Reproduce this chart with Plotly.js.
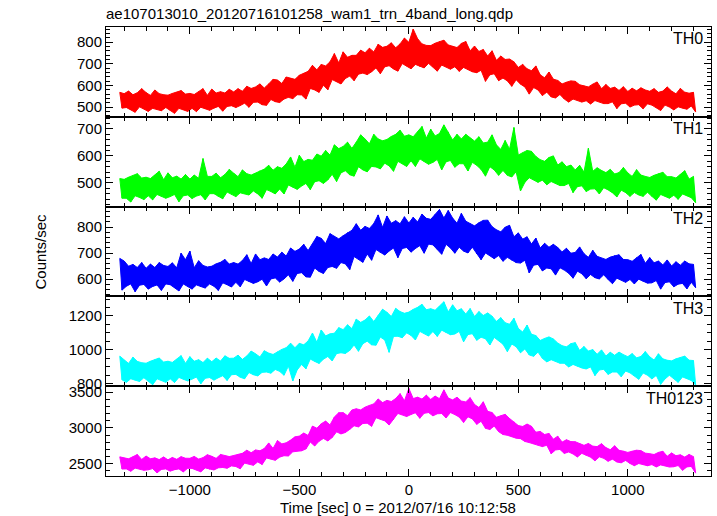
<!DOCTYPE html>
<html><head><meta charset="utf-8">
<script src="https://cdn.plot.ly/plotly-3.0.1.min.js"></script>
<style>html,body{margin:0;padding:0;background:#fff}</style>
</head><body><div id="chart" style="width:717px;height:516px"></div>
<script>
const titleText = "ae107013010_20120716101258_wam1_trn_4band_long.qdp";
const xTitle = "Time [sec] 0 = 2012/07/16 10:12:58";
const yTitle = "Counts/sec";
const bandNames = ["TH0", "TH1", "TH2", "TH3", "TH0123"];
const bandColors = ["#ff0000", "#00ff00", "#0000ff", "#00ffff", "#ff00ff"];
const yRanges = [[455, 870], [412, 745], [534, 879], [784, 1316], [2328, 3581]];
const yDticks = [100, 100, 100, 200, 500];
const yMinor = [20, 20, 20, 50, 100];

const time = [-1320,-1310,
-1300,-1290,-1280,-1270,-1260,-1250,-1240,-1230,-1220,-1210,
-1200,-1190,-1180,-1170,-1160,-1150,-1140,-1130,-1120,-1110,
-1100,-1090,-1080,-1070,-1060,-1050,-1040,-1030,-1020,-1010,
-1000,-990,-980,-970,-960,-950,-940,-930,-920,-910,
-900,-890,-880,-870,-860,-850,-840,-830,-820,-810,
-800,-790,-780,-770,-760,-750,-740,-730,-720,-710,
-700,-690,-680,-670,-660,-650,-640,-630,-620,-610,
-600,-590,-580,-570,-560,-550,-540,-530,-520,-510,
-500,-490,-480,-470,-460,-450,-440,-430,-420,-410,
-400,-390,-380,-370,-360,-350,-340,-330,-320,-310,
-300,-290,-280,-270,-260,-250,-240,-230,-220,-210,
-200,-190,-180,-170,-160,-150,-140,-130,-120,-110,
-100,-90,-80,-70,-60,-50,-40,-30,-20,-10,
0,10,20,30,40,50,60,70,80,90,
100,110,120,130,140,150,160,170,180,190,
200,210,220,230,240,250,260,270,280,290,
300,310,320,330,340,350,360,370,380,390,
400,410,420,430,440,450,460,470,480,490,
500,510,520,530,540,550,560,570,580,590,
600,610,620,630,640,650,660,670,680,690,
700,710,720,730,740,750,760,770,780,790,
800,810,820,830,840,850,860,870,880,890,
900,910,920,930,940,950,960,970,980,990,
1000,1010,1020,1030,1040,1050,1060,1070,1080,1090,
1100,1110,1120,1130,1140,1150,1160,1170,1180,1190,
1200,1210,1220,1230,1240,1250,1260,1270,1280,1290,
1300,1310];

const th0 = [568,495,
562,498,574,487,557,476,566,501,585,492,
567,480,554,494,579,488,562,483,557,498,
555,485,563,471,569,494,576,488,560,480,
563,494,558,479,571,499,585,492,554,485,
583,495,565,503,571,481,565,503,582,506,
570,498,585,507,573,518,596,499,586,522,
593,523,607,511,588,508,607,535,628,525,
625,521,609,537,639,545,634,539,628,557,
647,556,657,537,665,586,693,579,672,568,
697,601,690,580,709,627,747,617,704,607,
755,632,730,643,739,622,739,652,763,657,
751,650,772,663,755,681,790,654,776,686,
781,691,797,676,774,666,792,701,819,689,
799,677,860,697,816,688,792,681,785,702,
784,686,795,666,803,694,809,686,787,675,
782,686,775,665,794,683,803,673,760,663,
782,659,757,670,766,619,736,649,760,654,
716,622,736,634,720,621,722,596,709,626,
683,606,697,593,677,560,668,590,690,579,
649,553,635,569,662,547,629,542,623,558,
607,537,615,523,621,537,619,531,603,523,
598,529,593,514,606,530,616,523,585,516,
604,516,586,524,592,493,577,515,594,518,
572,500,587,509,575,511,589,492,579,515,
573,509,585,498,568,484,574,509,593,500,
574,487,561,501,586,495,569,490,564,505,
568,477];

const th1 = [516,443,
513,443,521,429,527,452,534,446,518,438,
521,452,516,437,529,457,543,450,512,443,
537,449,519,457,525,430,514,452,531,455,
514,442,529,451,517,456,590,437,524,460,
524,460,536,449,519,441,531,466,550,457,
536,449,523,463,548,460,534,455,529,470,
536,459,545,443,551,475,565,468,547,459,
560,477,554,459,570,492,596,484,558,476,
602,488,579,498,587,475,584,504,607,508,
599,498,620,511,603,532,641,505,627,537,
635,545,651,530,628,525,651,560,678,548,
663,541,645,561,680,559,663,552,656,573,
661,563,672,543,680,580,695,572,673,561,
678,582,671,561,690,589,709,579,666,569,
699,576,674,587,683,548,715,578,689,583,
659,558,680,571,663,571,680,544,666,576,
655,565,671,550,648,525,651,560,678,548,
641,528,624,546,657,528,625,522,705,541,
603,470,612,502,620,519,617,511,598,502,
586,510,580,493,594,505,600,497,566,490,
578,490,560,498,566,464,548,486,565,489,
540,468,628,477,543,478,556,459,546,482,
538,474,550,463,533,448,538,473,557,464,
537,450,524,464,549,455,529,450,524,465,
520,450,528,436,534,457,539,451,523,443,
523,454,518,439,531,459,545,452,514,445,
524,426];

const th2 = [680,558,
670,573,650,582,657,552,645,577,664,580,
642,562,658,572,645,578,664,557,653,582,
649,579,663,567,644,555,700,582,675,572,
708,562,644,578,671,571,653,566,647,582,
650,573,659,557,665,586,676,579,658,570,
664,588,658,571,672,599,694,591,660,584,
697,590,675,600,682,574,676,601,697,605,
685,589,704,601,689,617,720,592,707,622,
716,625,734,609,710,608,737,643,764,630,
757,622,737,645,775,649,764,642,755,664,
767,659,779,637,788,687,813,677,788,665,
803,697,795,673,814,714,847,702,799,693,
843,708,815,720,825,683,813,718,840,722,
816,704,838,718,820,729,850,700,834,735,
830,732,849,715,868,696,835,734,864,720,
835,700,815,723,853,708,823,701,814,723,
805,697,817,675,826,701,827,691,802,679,
790,691,782,669,800,684,807,673,763,664,
778,662,754,673,763,624,735,654,758,657,
720,632,738,643,723,640,734,616,722,644,
705,635,719,623,700,604,703,631,724,621,
698,602,684,618,711,606,688,601,682,617,
676,599,685,583,691,604,694,597,676,588,
675,599,669,582,683,600,695,592,661,585,
683,586,663,595,670,562,655,587,674,590,
651,571,667,581,654,584,670,563,659,588,
657,567];

const th3 = [962,822,
938,807,919,828,956,819,931,812,923,834,
920,814,932,793,941,828,951,819,927,807,
932,828,925,806,944,836,965,825,919,815,
959,826,932,838,941,798,924,831,950,835,
929,820,951,834,933,846,964,818,949,852,
950,854,968,837,943,828,963,865,992,852,
976,845,957,866,994,868,980,861,972,883,
988,872,1002,849,1012,903,1039,815,1012,880,
1038,913,1029,887,1052,945,1099,931,1044,919,
1117,944,1082,960,1094,934,1098,977,1131,982,
1119,978,1148,996,1125,1028,1181,991,1162,1036,
1176,1051,1200,1029,1167,1027,1202,1075,1240,1058,
1222,985,1197,1079,1245,1080,1226,1071,1216,1100,
1223,1085,1239,1058,1251,1109,1269,1097,1237,1081,
1243,1108,1234,1079,1259,1116,1284,1102,1224,1089,
1266,1093,1231,1109,1243,1047,1211,1090,1244,1095,
1197,1056,1226,1074,1203,1065,1218,1028,1199,1073,
1168,1053,1190,1033,1160,989,1151,1034,1186,1018,
1126,982,1105,1005,1146,969,1092,961,1084,986,
1055,949,1067,928,1076,941,1064,932,1040,920,
1024,920,1017,898,1036,913,1042,902,996,892,
1019,886,992,898,1001,847,973,880,999,884,
963,854,985,868,967,868,986,840,971,874,
959,863,977,846,952,825,960,862,989,849,
958,827,939,848,976,795,946,827,938,849,
934,828,946,807,955,839,962,830,938,818,
936,791];

const th0123 = [2595,2425,
2579,2427,2568,2394,2597,2438,2628,2423,2559,2408,
2607,2414,2568,2431,2581,2372,2557,2420,2594,2427,
2554,2396,2587,2416,2561,2427,2598,2385,2576,2436,
2575,2434,2601,2410,2564,2386,2584,2441,2625,2421,
2603,2412,2574,2442,2629,2447,2610,2436,2599,2469,
2614,2460,2631,2429,2645,2508,2688,2494,2653,2477,
2692,2525,2680,2488,2712,2580,2789,2563,2713,2547,
2822,2591,2776,2611,2791,2607,2829,2665,2874,2673,
2885,2679,2928,2705,2894,2802,3024,2747,2995,2813,
3057,2852,3094,2817,3041,2865,3152,2944,3211,2915,
3212,2935,3170,2978,3249,3029,3266,3013,3250,3061,
3289,3065,3313,3021,3334,3141,3403,3121,3352,3097,
3383,3040,3367,3114,3409,3201,3477,3179,3377,3158,
3550,3186,3409,3210,3428,3134,3402,3203,3456,3213,
3397,3167,3444,3196,3407,3200,3530,3139,3416,3213,
3390,3185,3427,3150,3374,3075,3362,3154,3421,3125,
3326,3049,3284,3092,3363,2993,3230,2977,3214,3025,
3147,2947,3169,2907,3188,2896,3130,2878,3085,2856,
3032,2849,3019,2810,3053,2794,3022,2776,2939,2758,
2950,2738,2907,2757,2922,2639,2842,2691,2883,2699,
2801,2643,2834,2663,2808,2635,2806,2593,2784,2644,
2756,2615,2782,2591,2745,2540,2738,2595,2779,2575,
2724,2533,2695,2563,2750,2523,2686,2512,2675,2545,
2657,2503,2674,2472,2688,2502,2682,2488,2647,2471,
2639,2487,2628,2454,2657,2483,2673,2468,2604,2453,
2650,2457,2611,2474,2624,2407,2592,2455,2629,2462,
2598,2368];

const series = [th0, th1, th2, th3, th0123];
const FONT = "Liberation Sans, Arial, Helvetica, sans-serif";
const n = series.length;
const traces = [];
const layout = {
  width: 717, height: 516,
  margin: {l: 106, r: 6, t: 27, b: 40},
  paper_bgcolor: "#fff", plot_bgcolor: "#fff",
  showlegend: false,
  font: {family: FONT, size: 15, color: "#000"},
  title: {text: titleText, font: {family: FONT, size: 15, color: "#000"},
          xref: "paper", x: 0, xanchor: "left", yref: "container", y: 1 - 14/516, yanchor: "middle"},
  annotations: []
};
for (let i = 0; i < n; i++) {
  const sx = i === 0 ? "" : String(i + 1);
  // the series swings between local highs and lows; split them so the band between is filled
  const hx = [], hy = [], lx = [], ly = [];
  series[i].forEach((v, k) => {
    if (k % 2 === 0) { hx.push(time[k]); hy.push(v); } else { lx.push(time[k]); ly.push(v); }
  });
  traces.push({
    x: lx, y: ly, type: "scatter", mode: "lines",
    line: {color: bandColors[i], width: 1},
    xaxis: "x" + sx, yaxis: "y" + sx, hoverinfo: "skip"
  });
  traces.push({
    x: hx, y: hy, type: "scatter", mode: "lines", fill: "tonexty", fillcolor: bandColors[i],
    line: {color: bandColors[i], width: 1},
    xaxis: "x" + sx, yaxis: "y" + sx, hoverinfo: "skip"
  });
  traces.push({
    x: time, y: series[i], type: "scatter", mode: "lines",
    line: {color: bandColors[i], width: 1},
    xaxis: "x" + sx, yaxis: "y" + sx, hoverinfo: "skip"
  });
  const top = 1 - i / n, bot = 1 - (i + 1) / n;
  layout["xaxis" + sx] = {
    anchor: "y" + sx, range: [-1383, 1380], tick0: 0, dtick: 500,
    ticks: "inside", ticklen: 7, tickwidth: 1, tickcolor: "#000",
    minor: {dtick: 100, tick0: 0, ticks: "inside", ticklen: 4, tickcolor: "#000", showgrid: false},
    showline: true, linecolor: "#000", linewidth: 1, mirror: "allticks",
    showgrid: false, zeroline: false, showticklabels: i === n - 1,
    tickfont: {family: FONT, size: 15, color: "#000"},
    fixedrange: true
  };
  if (i > 0) layout["xaxis" + sx].matches = "x";
  layout["yaxis" + sx] = {
    anchor: "x" + sx, domain: [bot, top], range: yRanges[i], dtick: yDticks[i], tick0: 0,
    ticks: "inside", ticklen: 7, tickwidth: 1, tickcolor: "#000",
    minor: {dtick: yMinor[i], tick0: 0, ticks: "inside", ticklen: 4, tickcolor: "#000", showgrid: false},
    showline: true, linecolor: "#000", linewidth: 1, mirror: "allticks",
    showgrid: false, zeroline: false,
    tickfont: {family: FONT, size: 15, color: "#000"},
    fixedrange: true
  };
  layout.annotations.push({
    xref: "x" + sx + " domain", yref: "y" + sx + " domain",
    x: 0.99, y: 0.985, xanchor: "right", yanchor: "top",
    text: bandNames[i], showarrow: false,
    font: {family: FONT, size: 16, color: "#000"}
  });
}
layout.annotations.push({
  xref: "paper", yref: "paper", x: 0.483, y: -(507 - 476) / 449, xanchor: "center", yanchor: "middle",
  text: xTitle, showarrow: false, font: {family: FONT, size: 15, color: "#000"}
});
layout.annotations.push({
  xref: "paper", yref: "paper", x: (40 - 106) / 605, y: 0.5, xanchor: "center", yanchor: "middle",
  text: yTitle, textangle: -90, showarrow: false, font: {family: FONT, size: 15, color: "#000"}
});
Plotly.newPlot("chart", traces, layout, {displayModeBar: false, staticPlot: true});
</script>
</body></html>
